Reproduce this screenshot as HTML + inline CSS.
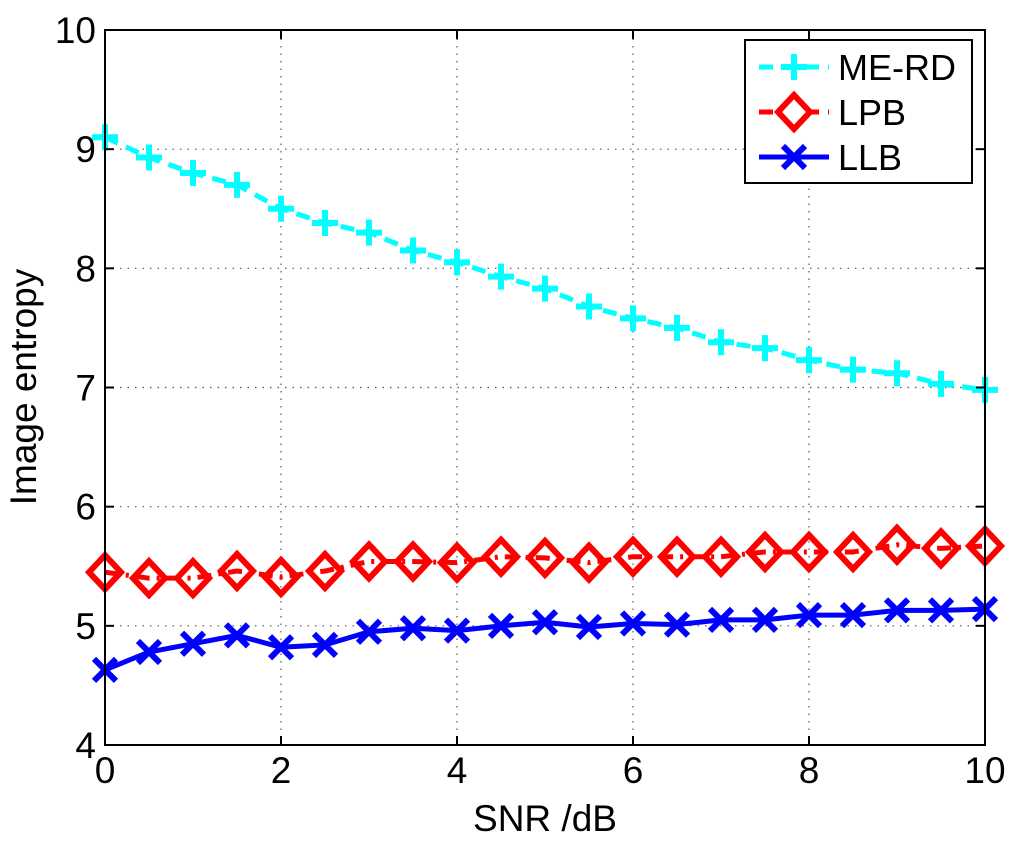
<!DOCTYPE html>
<html><head><meta charset="utf-8"><style>
body{margin:0;background:#fff}
svg text{font-family:"Liberation Sans",sans-serif}
</style></head><body>
<svg id="chart" width="1024" height="850" xmlns="http://www.w3.org/2000/svg">
<rect width="1024" height="850" fill="#fff"/>
<g id="grid"></g>
<g id="series"></g>
<rect x="105" y="30" width="880" height="715" fill="none" stroke="#000" stroke-width="2"/>
<g id="ticks"></g>
<text x="545" y="831" font-size="37" text-anchor="middle">SNR /dB</text>
<text transform="translate(36,387) rotate(-90)" font-size="37" text-anchor="middle">Image entropy</text>
<g>
<rect x="745" y="40" width="227" height="143" fill="#fff" stroke="#000" stroke-width="2"/>
<g>
<line x1="759" y1="67" x2="829" y2="67" stroke="#00ffff" stroke-width="5" stroke-dasharray="14,9"/>
<path d="M781 67h26M794 54v26" stroke="#00ffff" stroke-width="6"/>
<text x="838" y="80" font-size="36">ME-RD</text></g>
<g>
<line x1="759" y1="112" x2="829" y2="112" stroke="#ff0000" stroke-width="5" stroke-dasharray="14,9"/>
<path d="M794 95l16 17-16 17-16-17z" fill="#fff" stroke="#ff0000" stroke-width="6"/>
<text x="838" y="125" font-size="36">LPB</text></g>
<g>
<line x1="759" y1="157" x2="829" y2="157" stroke="#0000ff" stroke-width="5"/>
<path d="M783 146l22 22M805 146l-22 22" stroke="#0000ff" stroke-width="6"/>
<text x="838" y="170" font-size="36">LLB</text></g>
</g>
</svg>
<script>
const snr=[0,0.5,1,1.5,2,2.5,3,3.5,4,4.5,5,5.5,6,6.5,7,7.5,8,8.5,9,9.5,10];
const meRD=[9.1,8.93,8.8,8.7,8.5,8.38,8.3,8.15,8.05,7.93,7.83,7.68,7.58,7.5,7.38,7.33,7.23,7.15,7.12,7.03,6.98];
const lpb=[5.45,5.40,5.40,5.46,5.41,5.46,5.54,5.54,5.53,5.58,5.57,5.53,5.58,5.58,5.58,5.62,5.62,5.62,5.68,5.65,5.67];
const llb=[4.63,4.78,4.85,4.92,4.82,4.84,4.95,4.98,4.96,5.0,5.03,4.99,5.02,5.01,5.05,5.05,5.09,5.09,5.13,5.13,5.14];
const xTicks=[0,2,4,6,8,10];
const yTicks=[4,5,6,7,8,9,10];
const NS="http://www.w3.org/2000/svg";
const X0=105,X1=985,Y0=745,Y1=30;
const sx=v=>X0+(v-0)/(10-0)*(X1-X0);
const sy=v=>Y0-(v-4)/(10-4)*(Y0-Y1);
function mk(t,a,p){const e=document.createElementNS(NS,t);for(const k in a)e.setAttribute(k,a[k]);p.appendChild(e);return e;}
const grid=document.getElementById('grid'),ticks=document.getElementById('ticks'),series=document.getElementById('series');
xTicks.forEach(v=>{
 const x=sx(v);
 if(v>0&&v<10){const g=mk('line',{x1:x,y1:Y0,x2:x,y2:Y1,stroke:'#555','stroke-width':1.2,'stroke-dasharray':'1.5,6'},grid);
 
 }
 mk('line',{x1:x,y1:Y0,x2:x,y2:Y0-9,stroke:'#000','stroke-width':2},ticks);
 mk('line',{x1:x,y1:Y1,x2:x,y2:Y1+9,stroke:'#000','stroke-width':2},ticks);
 const t=mk('text',{x:x,y:Y0+38,'font-size':37,'text-anchor':'middle'},ticks);t.textContent=v;
 
 
});
yTicks.forEach(v=>{
 const y=sy(v);
 if(v>4&&v<10){const g=mk('line',{x1:X0,y1:y,x2:X1,y2:y,stroke:'#555','stroke-width':1.2,'stroke-dasharray':'1.5,6'},grid);
 
 }
 mk('line',{x1:X0,y1:y,x2:X0+9,y2:y,stroke:'#000','stroke-width':2},ticks);
 mk('line',{x1:X1,y1:y,x2:X1-9,y2:y,stroke:'#000','stroke-width':2},ticks);
 const t=mk('text',{x:X0-9,y:y+13,'font-size':37,'text-anchor':'end'},ticks);t.textContent=v;
 
 
});
function drawSeries(vals,color,dash,marker,name){
 const g=mk('g',{},series);
 
 
 const pts=snr.map((s,i)=>sx(s)+','+sy(vals[i])).join(' ');
 const l=mk('polyline',{points:pts,fill:'none',stroke:color,'stroke-width':5,'stroke-dasharray':dash,'stroke-linejoin':'round'},g);
 
 
 snr.forEach((s,i)=>{
  const x=sx(s),y=sy(vals[i]);let m;
  if(marker==='plus')m=mk('path',{d:`M${x-13} ${y}h26M${x} ${y-13}v26`,stroke:color,'stroke-width':6},g);
  else if(marker==='diamond')m=mk('path',{d:`M${x} ${y-17}l16 17-16 17-16-17z`,fill:'none',stroke:color,'stroke-width':6},g);
  else m=mk('path',{d:`M${x-11} ${y-11}l22 22M${x+11} ${y-11}l-22 22`,stroke:color,'stroke-width':6},g);
  
  
 });
}
drawSeries(meRD,'#00ffff','14,9','plus','me-rd');
drawSeries(lpb,'#ff0000','14,7,3,7','diamond','lpb');
drawSeries(llb,'#0000ff','none','x','llb');
</script>
</body></html>
